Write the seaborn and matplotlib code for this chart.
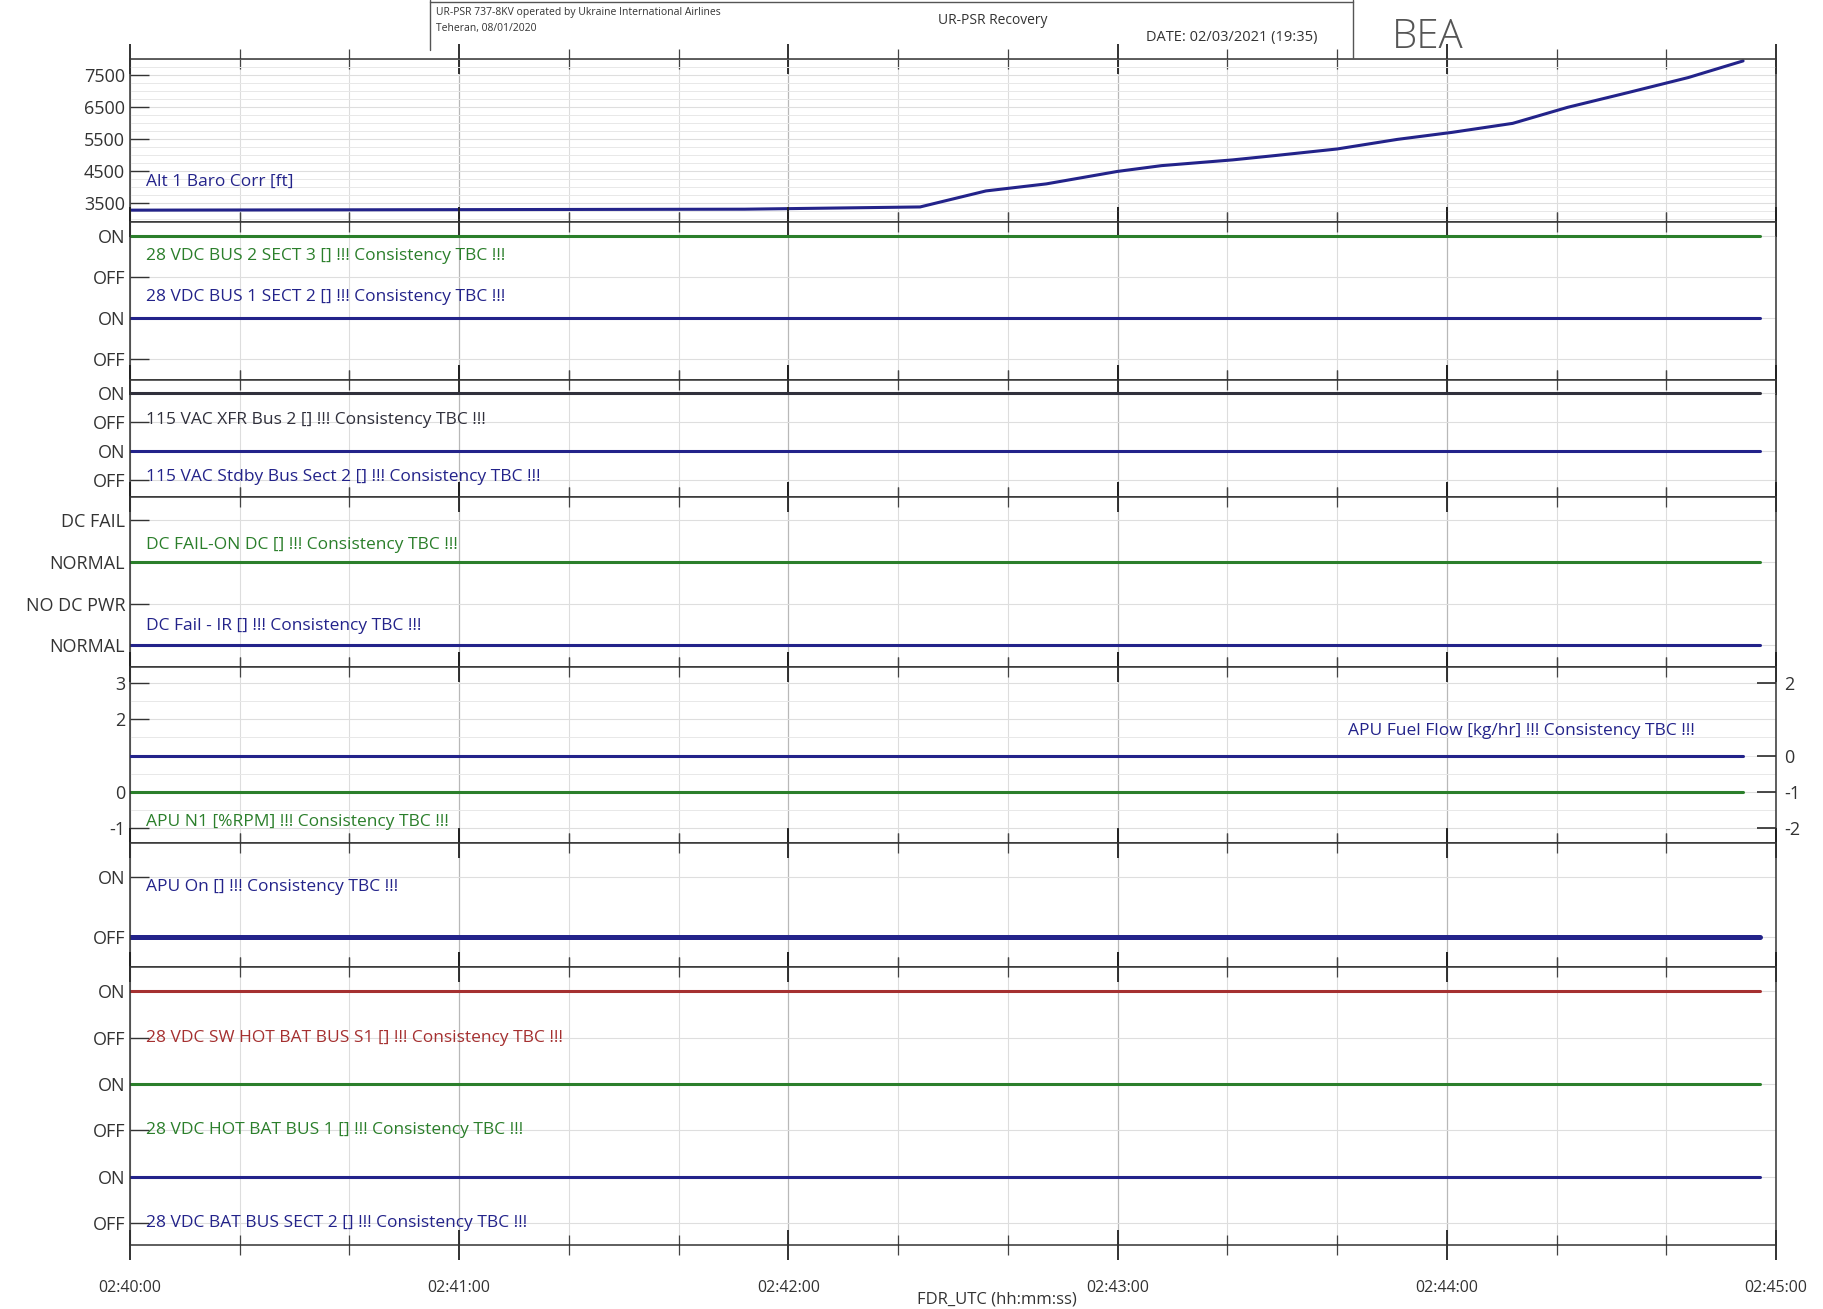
import numpy as np
import pandas as pd
import matplotlib.pyplot as plt
import seaborn as sns
from matplotlib.lines import Line2D
from matplotlib.ticker import MultipleLocator

sns.set_theme(style="white")
plt.rcParams['font.family'] = ['Open Sans', 'DejaVu Sans']
plt.rcParams['axes.unicode_minus'] = False

# -----------------------------
# Data (seconds after 02:40:00)
# -----------------------------
alt_t = [0, 112, 144, 150, 156, 167, 180, 188, 201, 209, 220, 231, 241, 252, 262, 273, 284, 294]
alt_ft = [3290, 3320, 3390, 3640, 3890, 4110, 4500, 4680, 4860, 5000, 5200, 5500, 5720, 6000, 6500, 6960, 7430, 7950]

state_t = [0, 297]
bus2_sect3 = [3, 3]        # ON
bus1_sect2 = [1, 1]        # ON
xfr_bus2 = [3, 3]          # ON
stdby_bus = [1, 1]         # ON
dc_fail_on_dc = [2, 2]     # NORMAL
dc_fail_ir = [0, 0]        # NORMAL
apu_t = [0, 294]
apu_fuel_flow = [0, 0]
apu_n1 = [0, 0]
apu_on = [0, 0]            # OFF
sw_hot_bat = [5, 5]        # ON
hot_bat_bus1 = [3, 3]      # ON
bat_bus_sect2 = [1, 1]     # ON

xtick_labels = ['02:40:00', '02:41:00', '02:42:00', '02:43:00', '02:44:00', '02:45:00']

navy = '#23238a'
green = '#2b7f2b'
red = '#a53030'
dark = '#30303c'

# -----------------------------
# Figure / layout
# -----------------------------
W, H = 1823, 1309
fig = plt.figure(figsize=(W / 100, H / 100), dpi=100)
bounds = [59, 222, 380, 497, 667, 843, 967, 1245]
heights = np.diff(bounds)
gs = fig.add_gridspec(len(heights), 1, height_ratios=heights, hspace=0,
                      left=130 / W, right=1776 / W, top=1 - 59 / H, bottom=1 - 1245 / H)
axes = [fig.add_subplot(gs[i]) for i in range(len(heights))]
for ax in axes[1:]:
    ax.sharex(axes[0])

LBL = 12.5
TCK = 13
X0 = 3


def line(ax, x, y, color, lw=2.2):
    sns.lineplot(x=x, y=y, ax=ax, color=color, linewidth=lw, estimator=None, sort=False)


def label(ax, x, y, text, color):
    ax.text(x, y, text, color=color, fontsize=LBL, va='center', ha='left')


# Panel 1: altitude
ax = axes[0]
line(ax, alt_t, alt_ft, navy)
ax.set_ylim(2920, 8010)
ax.set_yticks([3500, 4500, 5500, 6500, 7500])
ax.yaxis.set_minor_locator(MultipleLocator(250))
label(ax, X0, 4170, 'Alt 1 Baro Corr [ft]', navy)

# Panel 2
ax = axes[1]
line(ax, state_t, bus2_sect3, green)
line(ax, state_t, bus1_sect2, navy)
ax.set_ylim(-0.52, 3.34)
ax.set_yticks([0, 1, 2, 3], ['OFF', 'ON', 'OFF', 'ON'])
label(ax, X0, 2.5, '28 VDC BUS 2 SECT 3 [] !!! Consistency TBC !!!', green)
label(ax, X0, 1.5, '28 VDC BUS 1 SECT 2 [] !!! Consistency TBC !!!', navy)

# Panel 3
ax = axes[2]
line(ax, state_t, xfr_bus2, dark)
line(ax, state_t, stdby_bus, navy)
ax.set_ylim(-0.6, 3.45)
ax.set_yticks([0, 1, 2, 3], ['OFF', 'ON', 'OFF', 'ON'])
label(ax, X0, 2.05, '115 VAC XFR Bus 2 [] !!! Consistency TBC !!!', dark)
label(ax, X0, 0.1, '115 VAC Stdby Bus Sect 2 [] !!! Consistency TBC !!!', navy)

# Panel 4
ax = axes[3]
line(ax, state_t, dc_fail_on_dc, green)
line(ax, state_t, dc_fail_ir, navy)
ax.set_ylim(-0.52, 3.55)
ax.set_yticks([0, 1, 2, 3], ['NORMAL', 'NO DC PWR', 'NORMAL', 'DC FAIL'])
label(ax, X0, 2.4, 'DC FAIL-ON DC [] !!! Consistency TBC !!!', green)
label(ax, X0, 0.45, 'DC Fail - IR [] !!! Consistency TBC !!!', navy)

# Panel 5: APU N1 (left) / APU fuel flow (right)
ax = axes[4]
ax2 = ax.twinx()
line(ax, apu_t, apu_n1, green)
line(ax2, apu_t, apu_fuel_flow, navy)
ax.set_ylim(-1.42, 3.45)
ax2.set_ylim(-2.42, 2.45)
ax.set_yticks([-1, 0, 2, 3])
ax2.set_yticks([-2, -1, 0, 2])
ax.yaxis.set_minor_locator(MultipleLocator(0.5))
label(ax, X0, -0.85, 'APU N1 [%RPM] !!! Consistency TBC !!!', green)
ax2.text(222, 0.68, 'APU Fuel Flow [kg/hr] !!! Consistency TBC !!!', color=navy,
         fontsize=LBL, va='center', ha='left')
ax2.set_ylabel('')
ax2.tick_params(axis='y', direction='in', length=14, labelsize=TCK, colors='#333333',
                pad=6)
for s in ax2.spines.values():
    s.set_visible(False)

# Panel 6
ax = axes[5]
line(ax, state_t, apu_on, navy, lw=3.6)
ax.set_ylim(-0.5, 1.57)
ax.set_yticks([0, 1], ['OFF', 'ON'])
label(ax, X0, 0.84, 'APU On [] !!! Consistency TBC !!!', navy)

# Panel 7
ax = axes[6]
line(ax, state_t, sw_hot_bat, red)
line(ax, state_t, hot_bat_bus1, green)
line(ax, state_t, bat_bus_sect2, navy)
ax.set_ylim(-0.47, 5.52)
ax.set_yticks([0, 1, 2, 3, 4, 5], ['OFF', 'ON', 'OFF', 'ON', 'OFF', 'ON'])
label(ax, X0, 4.0, '28 VDC SW HOT BAT BUS S1 [] !!! Consistency TBC !!!', red)
label(ax, X0, 2.0, '28 VDC HOT BAT BUS 1 [] !!! Consistency TBC !!!', green)
label(ax, X0, 0.0, '28 VDC BAT BUS SECT 2 [] !!! Consistency TBC !!!', navy)

# common styling
for i, ax in enumerate(axes):
    ax.set_xlim(0, 300)
    ax.set_xticks(range(0, 301, 60))
    ax.xaxis.set_minor_locator(MultipleLocator(20))
    ax.set_ylabel('')
    ax.set_xlabel('')
    ax.grid(True, which='major', axis='x', color='#b8b8b8', linewidth=0.9)
    ax.grid(True, which='minor', axis='x', color='#dddddd', linewidth=0.8)
    ax.grid(True, which='major', axis='y', color='#dedede', linewidth=0.8)
    ax.grid(True, which='minor', axis='y', color='#e8e8e8', linewidth=0.7)
    ax.tick_params(axis='x', which='major', direction='inout', length=22, width=1.3,
                   top=True, bottom=True, color='#222222')
    ax.tick_params(axis='x', which='minor', direction='inout', length=14, width=0.9,
                   top=True, bottom=True, color='#444444')
    ax.tick_params(axis='y', which='major', direction='in', length=14, width=1.0,
                   labelsize=TCK, colors='#333333', left=True)
    ax.tick_params(axis='y', which='minor', length=0)
    for s in ax.spines.values():
        s.set_color('#333333')
        s.set_linewidth(1.1)
    if i < len(axes) - 1:
        ax.tick_params(axis='x', labelbottom=False)

axes[-1].set_xticks(range(0, 301, 60), xtick_labels)
axes[-1].tick_params(axis='x', labelsize=11.5, labelcolor='#333333', pad=14)
fig.text(997 / W, 1 - 1299 / H, 'FDR_UTC (hh:mm:ss)', ha='center', va='center',
         fontsize=12, color='#333333')

# -----------------------------
# Header cartouche
# -----------------------------
def fl(x0, y0, x1, y1):
    fig.add_artist(Line2D([x0 / W, x1 / W], [1 - y0 / H, 1 - y1 / H],
                          color='#555555', linewidth=1.0))


fl(430, 2, 1353, 2)
fl(430, 0, 430, 50)
fl(1353, 0, 1353, 58)
fig.text(436 / W, 1 - 13 / H, 'UR-PSR 737-8KV operated by Ukraine International Airlines',
         fontsize=7.5, color='#333333', va='center')
fig.text(436 / W, 1 - 29 / H, 'Teheran, 08/01/2020', fontsize=7.5, color='#333333', va='center')
fig.text(938 / W, 1 - 20 / H, 'UR-PSR Recovery', fontsize=10, color='#333333', va='center')
fig.text(1318 / W, 1 - 37 / H, 'DATE: 02/03/2021 (19:35)', fontsize=10.5, color='#333333',
         va='center', ha='right')
fig.text(1428 / W, 1 - 38 / H, 'BEA', fontsize=29, color='#555555', va='center',
         ha='center', fontweight='light')

plt.savefig('out.png', dpi=100)
